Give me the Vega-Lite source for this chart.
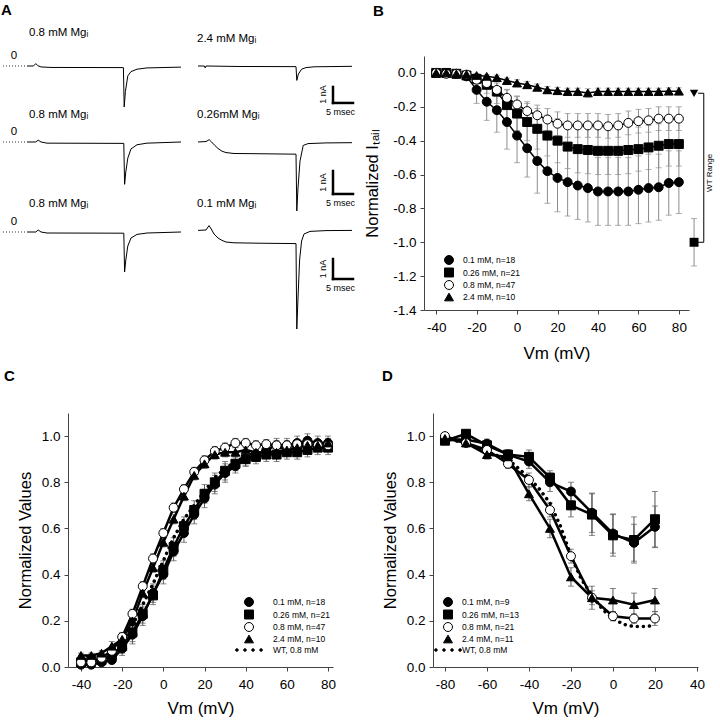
{
"$schema":"https://vega.github.io/schema/vega-lite/v6.json",
"padding":{"left":1,"top":2,"right":0,"bottom":0},
"config":{
 "font":"Liberation Sans",
 "view":{"stroke":null},
 "locale":{"number":{"decimal":".","thousands":",","grouping":[3],"currency":["$",""],"minus":"-"}},
 "axis":{"domainColor":"#444","tickColor":"#444","labelColor":"#000","titleColor":"#000","labelFontSize":13.5,"titleFontSize":16.5,"titleFontWeight":"normal","tickSize":4,"labelFlush":false,"labelOverlap":false,"grid":false},
 "axisX":{"labelPadding":6,"titlePadding":12},
 "axisY":{"labelPadding":4,"titlePadding":8},
 "title":{"fontSize":15,"fontWeight":"bold","anchor":"start","frame":"group","color":"#000"},
 "legend":{"labelFontSize":8.5,"symbolSize":80,"rowPadding":-1.5,"padding":0,"symbolStrokeColor":"#000","symbolStrokeWidth":1,"symbolOpacity":1,"labelColor":"#000"}
},
"datasets":{
 "tr":[
  {"p":"1L","t":0,"i":0},{"p":"1L","t":1.6,"i":0},{"p":"1L","t":2.2,"i":0.15},{"p":"1L","t":2.7,"i":0.02},{"p":"1L","t":3.5,"i":-0.06},{"p":"1L","t":6,"i":-0.09},{"p":"1L","t":24.1,"i":-0.1},{"p":"1L","t":24.3,"i":-2.56},{"p":"1L","t":24.6,"i":-1.6},{"p":"1L","t":25.2,"i":-0.62},{"p":"1L","t":26,"i":-0.35},{"p":"1L","t":27.5,"i":-0.2},{"p":"1L","t":30,"i":-0.12},{"p":"1L","t":38.5,"i":-0.07},
  {"p":"1R","t":0,"i":0},{"p":"1R","t":1.6,"i":0},{"p":"1R","t":1.8,"i":-0.12},{"p":"1R","t":2,"i":0},{"p":"1R","t":10,"i":-0.03},{"p":"1R","t":24.5,"i":-0.04},{"p":"1R","t":24.7,"i":-0.9},{"p":"1R","t":25.1,"i":-0.5},{"p":"1R","t":25.9,"i":-0.2},{"p":"1R","t":27,"i":-0.1},{"p":"1R","t":29,"i":-0.05},{"p":"1R","t":38.5,"i":-0.02},
  {"p":"2L","t":0,"i":0},{"p":"2L","t":2.2,"i":0},{"p":"2L","t":2.8,"i":0.08},{"p":"2L","t":3.5,"i":0},{"p":"2L","t":5,"i":-0.05},{"p":"2L","t":24.2,"i":-0.06},{"p":"2L","t":24.4,"i":-1.84},{"p":"2L","t":24.7,"i":-1.3},{"p":"2L","t":25.2,"i":-0.7},{"p":"2L","t":26,"i":-0.3},{"p":"2L","t":27.5,"i":-0.12},{"p":"2L","t":30,"i":-0.05},{"p":"2L","t":38.5,"i":0},
  {"p":"2R","t":0,"i":0},{"p":"2R","t":2,"i":0.02},{"p":"2R","t":2.8,"i":0.1},{"p":"2R","t":3.4,"i":0},{"p":"2R","t":4.2,"i":-0.15},{"p":"2R","t":5,"i":-0.28},{"p":"2R","t":6,"i":-0.4},{"p":"2R","t":7,"i":-0.46},{"p":"2R","t":9,"i":-0.5},{"p":"2R","t":15,"i":-0.51},{"p":"2R","t":24.5,"i":-0.53},{"p":"2R","t":24.7,"i":-3.0},{"p":"2R","t":25,"i":-2.0},{"p":"2R","t":25.5,"i":-0.83},{"p":"2R","t":26.3,"i":-0.15},{"p":"2R","t":27.5,"i":-0.07},{"p":"2R","t":32,"i":-0.04},{"p":"2R","t":38.5,"i":-0.03},
  {"p":"3L","t":0,"i":0},{"p":"3L","t":2.2,"i":0},{"p":"3L","t":2.8,"i":0.1},{"p":"3L","t":3.5,"i":0},{"p":"3L","t":5,"i":-0.05},{"p":"3L","t":24.2,"i":-0.06},{"p":"3L","t":24.4,"i":-2.0},{"p":"3L","t":24.7,"i":-1.4},{"p":"3L","t":25.2,"i":-0.7},{"p":"3L","t":26,"i":-0.3},{"p":"3L","t":27.5,"i":-0.12},{"p":"3L","t":30,"i":-0.05},{"p":"3L","t":38.5,"i":0},
  {"p":"3R","t":0,"i":0.08},{"p":"3R","t":2,"i":0.1},{"p":"3R","t":2.75,"i":0.32},{"p":"3R","t":3.3,"i":0.15},{"p":"3R","t":4,"i":-0.1},{"p":"3R","t":5,"i":-0.3},{"p":"3R","t":6,"i":-0.42},{"p":"3R","t":7,"i":-0.5},{"p":"3R","t":9,"i":-0.54},{"p":"3R","t":15,"i":-0.56},{"p":"3R","t":24.5,"i":-0.58},{"p":"3R","t":24.7,"i":-4.85},{"p":"3R","t":25,"i":-3.3},{"p":"3R","t":25.4,"i":-1.4},{"p":"3R","t":25.9,"i":-0.45},{"p":"3R","t":26.5,"i":-0.1},{"p":"3R","t":28,"i":0.03},{"p":"3R","t":32,"i":0.07},{"p":"3R","t":38.5,"i":0.08}
 ],
 "an":[
  {"p":"1L","k":"zr","t":-6,"t1":-0.3,"i":0,"i1":0},{"p":"1L","k":"z","t":-3.25,"i":0,"lab":"0"},
  {"p":"2L","k":"zr","t":-6,"t1":-0.3,"i":0,"i1":0},{"p":"2L","k":"z","t":-3.25,"i":0,"lab":"0"},
  {"p":"3L","k":"zr","t":-6,"t1":-0.3,"i":0,"i1":0},{"p":"3L","k":"z","t":-3.25,"i":0,"lab":"0"},
  {"p":"1R","k":"sb","t":33.75,"t1":33.75,"i":-1.31,"i1":-2.31},{"p":"1R","k":"sb","t":33.75,"t1":38.75,"i":-2.31,"i1":-2.31},{"p":"1R","k":"v","t":31.25,"i":-1.78,"lab":"1 nA"},{"p":"1R","k":"h","t":35.6,"i":-2.875,"lab":"5 msec"},
  {"p":"2R","k":"sb","t":33.75,"t1":33.75,"i":-1.26,"i1":-2.26},{"p":"2R","k":"sb","t":33.75,"t1":38.75,"i":-2.26,"i1":-2.26},{"p":"2R","k":"v","t":31.25,"i":-1.76,"lab":"1 nA"},{"p":"2R","k":"h","t":35.6,"i":-2.65,"lab":"5 msec"},
  {"p":"3R","k":"sb","t":33.75,"t1":33.75,"i":-1.35,"i1":-2.35},{"p":"3R","k":"sb","t":33.75,"t1":38.75,"i":-2.35,"i1":-2.35},{"p":"3R","k":"v","t":31.25,"i":-1.85,"lab":"1 nA"},{"p":"3R","k":"h","t":35.6,"i":-2.8,"lab":"5 msec"}
 ],
 "iv":[
  {"V":-40,"s":"0.1 mM, n=18","m":0,"e":0.01},{"V":-35,"s":"0.1 mM, n=18","m":0,"e":0.01},{"V":-30,"s":"0.1 mM, n=18","m":-0.005,"e":0.01},{"V":-25,"s":"0.1 mM, n=18","m":-0.02,"e":0.02},{"V":-20,"s":"0.1 mM, n=18","m":-0.1,"e":0.08},{"V":-15,"s":"0.1 mM, n=18","m":-0.17,"e":0.11},{"V":-10,"s":"0.1 mM, n=18","m":-0.22,"e":0.13},{"V":-5,"s":"0.1 mM, n=18","m":-0.29,"e":0.16},{"V":0,"s":"0.1 mM, n=18","m":-0.37,"e":0.16},{"V":5,"s":"0.1 mM, n=18","m":-0.445,"e":0.17},{"V":10,"s":"0.1 mM, n=18","m":-0.52,"e":0.19},{"V":15,"s":"0.1 mM, n=18","m":-0.58,"e":0.19},{"V":20,"s":"0.1 mM, n=18","m":-0.62,"e":0.2},{"V":25,"s":"0.1 mM, n=18","m":-0.645,"e":0.2},{"V":30,"s":"0.1 mM, n=18","m":-0.665,"e":0.2},{"V":35,"s":"0.1 mM, n=18","m":-0.68,"e":0.2},{"V":40,"s":"0.1 mM, n=18","m":-0.7,"e":0.2},{"V":45,"s":"0.1 mM, n=18","m":-0.7,"e":0.2},{"V":50,"s":"0.1 mM, n=18","m":-0.7,"e":0.2},{"V":55,"s":"0.1 mM, n=18","m":-0.7,"e":0.2},{"V":60,"s":"0.1 mM, n=18","m":-0.69,"e":0.2},{"V":65,"s":"0.1 mM, n=18","m":-0.68,"e":0.2},{"V":70,"s":"0.1 mM, n=18","m":-0.675,"e":0.195},{"V":75,"s":"0.1 mM, n=18","m":-0.65,"e":0.19},{"V":80,"s":"0.1 mM, n=18","m":-0.645,"e":0.185},
  {"V":-40,"s":"0.26 mM, n=21","m":0,"e":0.01},{"V":-35,"s":"0.26 mM, n=21","m":0,"e":0.01},{"V":-30,"s":"0.26 mM, n=21","m":-0.005,"e":0.01},{"V":-25,"s":"0.26 mM, n=21","m":-0.015,"e":0.02},{"V":-20,"s":"0.26 mM, n=21","m":-0.035,"e":0.03},{"V":-15,"s":"0.26 mM, n=21","m":-0.07,"e":0.05},{"V":-10,"s":"0.26 mM, n=21","m":-0.11,"e":0.07},{"V":-5,"s":"0.26 mM, n=21","m":-0.19,"e":0.09},{"V":0,"s":"0.26 mM, n=21","m":-0.24,"e":0.1},{"V":5,"s":"0.26 mM, n=21","m":-0.29,"e":0.11},{"V":10,"s":"0.26 mM, n=21","m":-0.33,"e":0.12},{"V":15,"s":"0.26 mM, n=21","m":-0.37,"e":0.12},{"V":20,"s":"0.26 mM, n=21","m":-0.4,"e":0.13},{"V":25,"s":"0.26 mM, n=21","m":-0.435,"e":0.13},{"V":30,"s":"0.26 mM, n=21","m":-0.45,"e":0.14},{"V":35,"s":"0.26 mM, n=21","m":-0.455,"e":0.14},{"V":40,"s":"0.26 mM, n=21","m":-0.46,"e":0.14},{"V":45,"s":"0.26 mM, n=21","m":-0.46,"e":0.14},{"V":50,"s":"0.26 mM, n=21","m":-0.46,"e":0.14},{"V":55,"s":"0.26 mM, n=21","m":-0.455,"e":0.14},{"V":60,"s":"0.26 mM, n=21","m":-0.45,"e":0.13},{"V":65,"s":"0.26 mM, n=21","m":-0.44,"e":0.13},{"V":70,"s":"0.26 mM, n=21","m":-0.43,"e":0.13},{"V":75,"s":"0.26 mM, n=21","m":-0.42,"e":0.13},{"V":80,"s":"0.26 mM, n=21","m":-0.42,"e":0.13},
  {"V":-40,"s":"0.8 mM, n=47","m":0,"e":0.005},{"V":-35,"s":"0.8 mM, n=47","m":-0.005,"e":0.01},{"V":-30,"s":"0.8 mM, n=47","m":-0.005,"e":0.01},{"V":-25,"s":"0.8 mM, n=47","m":-0.01,"e":0.015},{"V":-20,"s":"0.8 mM, n=47","m":-0.04,"e":0.02},{"V":-15,"s":"0.8 mM, n=47","m":-0.06,"e":0.03},{"V":-10,"s":"0.8 mM, n=47","m":-0.1,"e":0.04},{"V":-5,"s":"0.8 mM, n=47","m":-0.147,"e":0.05},{"V":0,"s":"0.8 mM, n=47","m":-0.186,"e":0.05},{"V":5,"s":"0.8 mM, n=47","m":-0.225,"e":0.055},{"V":10,"s":"0.8 mM, n=47","m":-0.25,"e":0.06},{"V":15,"s":"0.8 mM, n=47","m":-0.275,"e":0.065},{"V":20,"s":"0.8 mM, n=47","m":-0.3,"e":0.07},{"V":25,"s":"0.8 mM, n=47","m":-0.31,"e":0.07},{"V":30,"s":"0.8 mM, n=47","m":-0.31,"e":0.07},{"V":35,"s":"0.8 mM, n=47","m":-0.31,"e":0.07},{"V":40,"s":"0.8 mM, n=47","m":-0.31,"e":0.07},{"V":45,"s":"0.8 mM, n=47","m":-0.315,"e":0.07},{"V":50,"s":"0.8 mM, n=47","m":-0.31,"e":0.07},{"V":55,"s":"0.8 mM, n=47","m":-0.295,"e":0.07},{"V":60,"s":"0.8 mM, n=47","m":-0.285,"e":0.07},{"V":65,"s":"0.8 mM, n=47","m":-0.28,"e":0.07},{"V":70,"s":"0.8 mM, n=47","m":-0.27,"e":0.07},{"V":75,"s":"0.8 mM, n=47","m":-0.27,"e":0.07},{"V":80,"s":"0.8 mM, n=47","m":-0.27,"e":0.07},
  {"V":-40,"s":"2.4 mM, n=10","m":0,"e":0.005},{"V":-35,"s":"2.4 mM, n=10","m":0,"e":0.005},{"V":-30,"s":"2.4 mM, n=10","m":-0.005,"e":0.005},{"V":-25,"s":"2.4 mM, n=10","m":-0.008,"e":0.008},{"V":-20,"s":"2.4 mM, n=10","m":-0.015,"e":0.01},{"V":-15,"s":"2.4 mM, n=10","m":-0.02,"e":0.01},{"V":-10,"s":"2.4 mM, n=10","m":-0.028,"e":0.015},{"V":-5,"s":"2.4 mM, n=10","m":-0.045,"e":0.015},{"V":0,"s":"2.4 mM, n=10","m":-0.06,"e":0.02},{"V":5,"s":"2.4 mM, n=10","m":-0.07,"e":0.02},{"V":10,"s":"2.4 mM, n=10","m":-0.085,"e":0.02},{"V":15,"s":"2.4 mM, n=10","m":-0.1,"e":0.02},{"V":20,"s":"2.4 mM, n=10","m":-0.105,"e":0.02},{"V":25,"s":"2.4 mM, n=10","m":-0.11,"e":0.02},{"V":30,"s":"2.4 mM, n=10","m":-0.11,"e":0.02},{"V":35,"s":"2.4 mM, n=10","m":-0.118,"e":0.025},{"V":40,"s":"2.4 mM, n=10","m":-0.11,"e":0.02},{"V":45,"s":"2.4 mM, n=10","m":-0.11,"e":0.02},{"V":50,"s":"2.4 mM, n=10","m":-0.11,"e":0.02},{"V":55,"s":"2.4 mM, n=10","m":-0.11,"e":0.02},{"V":60,"s":"2.4 mM, n=10","m":-0.11,"e":0.02},{"V":65,"s":"2.4 mM, n=10","m":-0.11,"e":0.02},{"V":70,"s":"2.4 mM, n=10","m":-0.11,"e":0.02},{"V":75,"s":"2.4 mM, n=10","m":-0.108,"e":0.02},{"V":80,"s":"2.4 mM, n=10","m":-0.108,"e":0.02}
 ],
 "wt":[{"V":87.5,"m":-0.12,"e":0,"k":"tri"},{"V":87.5,"m":-1.0,"e":0.14,"k":"sq"}],
 "wtb":[{"V":92.3,"V2":92.3,"m":-0.12,"m2":-1.0},{"V":89.5,"V2":92.3,"m":-0.12,"m2":-0.12},{"V":89.5,"V2":92.3,"m":-1.0,"m2":-1.0}],
 "wtt":[{"V":95.5,"m":-0.59,"lab":"WT Range"}],
 "act":[
  {"V":-40,"s":"0.1 mM, n=18","m":0.01,"e":0.01},{"V":-35,"s":"0.1 mM, n=18","m":0.01,"e":0.01},{"V":-30,"s":"0.1 mM, n=18","m":0.02,"e":0.01},{"V":-25,"s":"0.1 mM, n=18","m":0.03,"e":0.01},{"V":-20,"s":"0.1 mM, n=18","m":0.08,"e":0.03},{"V":-15,"s":"0.1 mM, n=18","m":0.14,"e":0.04},{"V":-10,"s":"0.1 mM, n=18","m":0.22,"e":0.04},{"V":-5,"s":"0.1 mM, n=18","m":0.32,"e":0.04},{"V":0,"s":"0.1 mM, n=18","m":0.4,"e":0.04},{"V":5,"s":"0.1 mM, n=18","m":0.5,"e":0.04},{"V":10,"s":"0.1 mM, n=18","m":0.58,"e":0.04},{"V":15,"s":"0.1 mM, n=18","m":0.66,"e":0.04},{"V":20,"s":"0.1 mM, n=18","m":0.73,"e":0.04},{"V":25,"s":"0.1 mM, n=18","m":0.79,"e":0.04},{"V":30,"s":"0.1 mM, n=18","m":0.84,"e":0.04},{"V":35,"s":"0.1 mM, n=18","m":0.87,"e":0.03},{"V":40,"s":"0.1 mM, n=18","m":0.9,"e":0.03},{"V":45,"s":"0.1 mM, n=18","m":0.92,"e":0.03},{"V":50,"s":"0.1 mM, n=18","m":0.94,"e":0.03},{"V":55,"s":"0.1 mM, n=18","m":0.96,"e":0.03},{"V":60,"s":"0.1 mM, n=18","m":0.96,"e":0.03},{"V":65,"s":"0.1 mM, n=18","m":0.97,"e":0.03},{"V":70,"s":"0.1 mM, n=18","m":0.98,"e":0.03},{"V":75,"s":"0.1 mM, n=18","m":0.97,"e":0.03},{"V":80,"s":"0.1 mM, n=18","m":0.97,"e":0.03},
  {"V":-40,"s":"0.26 mM, n=21","m":0.02,"e":0.01},{"V":-35,"s":"0.26 mM, n=21","m":0.03,"e":0.01},{"V":-30,"s":"0.26 mM, n=21","m":0.03,"e":0.01},{"V":-25,"s":"0.26 mM, n=21","m":0.05,"e":0.01},{"V":-20,"s":"0.26 mM, n=21","m":0.09,"e":0.03},{"V":-15,"s":"0.26 mM, n=21","m":0.15,"e":0.04},{"V":-10,"s":"0.26 mM, n=21","m":0.23,"e":0.04},{"V":-5,"s":"0.26 mM, n=21","m":0.31,"e":0.04},{"V":0,"s":"0.26 mM, n=21","m":0.42,"e":0.04},{"V":5,"s":"0.26 mM, n=21","m":0.52,"e":0.04},{"V":10,"s":"0.26 mM, n=21","m":0.61,"e":0.04},{"V":15,"s":"0.26 mM, n=21","m":0.68,"e":0.04},{"V":20,"s":"0.26 mM, n=21","m":0.75,"e":0.04},{"V":25,"s":"0.26 mM, n=21","m":0.8,"e":0.04},{"V":30,"s":"0.26 mM, n=21","m":0.85,"e":0.04},{"V":35,"s":"0.26 mM, n=21","m":0.88,"e":0.03},{"V":40,"s":"0.26 mM, n=21","m":0.9,"e":0.03},{"V":45,"s":"0.26 mM, n=21","m":0.91,"e":0.03},{"V":50,"s":"0.26 mM, n=21","m":0.92,"e":0.03},{"V":55,"s":"0.26 mM, n=21","m":0.92,"e":0.03},{"V":60,"s":"0.26 mM, n=21","m":0.93,"e":0.03},{"V":65,"s":"0.26 mM, n=21","m":0.93,"e":0.03},{"V":70,"s":"0.26 mM, n=21","m":0.94,"e":0.03},{"V":75,"s":"0.26 mM, n=21","m":0.95,"e":0.03},{"V":80,"s":"0.26 mM, n=21","m":0.95,"e":0.03},
  {"V":-40,"s":"0.8 mM, n=47","m":0.02,"e":0.01},{"V":-35,"s":"0.8 mM, n=47","m":0.02,"e":0.01},{"V":-30,"s":"0.8 mM, n=47","m":0.04,"e":0.01},{"V":-25,"s":"0.8 mM, n=47","m":0.07,"e":0.02},{"V":-20,"s":"0.8 mM, n=47","m":0.13,"e":0.02},{"V":-15,"s":"0.8 mM, n=47","m":0.23,"e":0.02},{"V":-10,"s":"0.8 mM, n=47","m":0.35,"e":0.02},{"V":-5,"s":"0.8 mM, n=47","m":0.47,"e":0.02},{"V":0,"s":"0.8 mM, n=47","m":0.58,"e":0.02},{"V":5,"s":"0.8 mM, n=47","m":0.69,"e":0.02},{"V":10,"s":"0.8 mM, n=47","m":0.77,"e":0.02},{"V":15,"s":"0.8 mM, n=47","m":0.845,"e":0.02},{"V":20,"s":"0.8 mM, n=47","m":0.895,"e":0.02},{"V":25,"s":"0.8 mM, n=47","m":0.935,"e":0.02},{"V":30,"s":"0.8 mM, n=47","m":0.95,"e":0.02},{"V":35,"s":"0.8 mM, n=47","m":0.97,"e":0.02},{"V":40,"s":"0.8 mM, n=47","m":0.97,"e":0.02},{"V":45,"s":"0.8 mM, n=47","m":0.96,"e":0.02},{"V":50,"s":"0.8 mM, n=47","m":0.965,"e":0.02},{"V":55,"s":"0.8 mM, n=47","m":0.96,"e":0.02},{"V":60,"s":"0.8 mM, n=47","m":0.96,"e":0.02},{"V":65,"s":"0.8 mM, n=47","m":0.965,"e":0.02},{"V":70,"s":"0.8 mM, n=47","m":0.965,"e":0.02},{"V":75,"s":"0.8 mM, n=47","m":0.96,"e":0.02},{"V":80,"s":"0.8 mM, n=47","m":0.96,"e":0.02},
  {"V":-40,"s":"2.4 mM, n=10","m":0.05,"e":0.01},{"V":-35,"s":"2.4 mM, n=10","m":0.05,"e":0.01},{"V":-30,"s":"2.4 mM, n=10","m":0.06,"e":0.01},{"V":-25,"s":"2.4 mM, n=10","m":0.09,"e":0.02},{"V":-20,"s":"2.4 mM, n=10","m":0.12,"e":0.02},{"V":-15,"s":"2.4 mM, n=10","m":0.2,"e":0.02},{"V":-10,"s":"2.4 mM, n=10","m":0.32,"e":0.02},{"V":-5,"s":"2.4 mM, n=10","m":0.43,"e":0.02},{"V":0,"s":"2.4 mM, n=10","m":0.54,"e":0.02},{"V":5,"s":"2.4 mM, n=10","m":0.64,"e":0.02},{"V":10,"s":"2.4 mM, n=10","m":0.74,"e":0.02},{"V":15,"s":"2.4 mM, n=10","m":0.83,"e":0.02},{"V":20,"s":"2.4 mM, n=10","m":0.88,"e":0.02},{"V":25,"s":"2.4 mM, n=10","m":0.92,"e":0.02},{"V":30,"s":"2.4 mM, n=10","m":0.93,"e":0.02},{"V":35,"s":"2.4 mM, n=10","m":0.93,"e":0.02},{"V":40,"s":"2.4 mM, n=10","m":0.94,"e":0.02},{"V":45,"s":"2.4 mM, n=10","m":0.93,"e":0.02},{"V":50,"s":"2.4 mM, n=10","m":0.93,"e":0.02},{"V":55,"s":"2.4 mM, n=10","m":0.93,"e":0.02},{"V":60,"s":"2.4 mM, n=10","m":0.94,"e":0.02},{"V":65,"s":"2.4 mM, n=10","m":0.95,"e":0.02},{"V":70,"s":"2.4 mM, n=10","m":0.96,"e":0.02},{"V":75,"s":"2.4 mM, n=10","m":0.96,"e":0.02},{"V":80,"s":"2.4 mM, n=10","m":0.97,"e":0.02}
 ],
 "actwt":[
  {"V":-40,"m":0.02},{"V":-35,"m":0.025},{"V":-30,"m":0.04},{"V":-25,"m":0.07},{"V":-20,"m":0.11},{"V":-15,"m":0.18},{"V":-10,"m":0.27},{"V":-5,"m":0.36},{"V":0,"m":0.46},{"V":5,"m":0.56},{"V":10,"m":0.64},{"V":15,"m":0.7},{"V":20,"m":0.76},{"V":25,"m":0.82},{"V":30,"m":0.86},{"V":35,"m":0.89},{"V":40,"m":0.91},{"V":45,"m":0.93},{"V":50,"m":0.94},{"V":55,"m":0.95},{"V":60,"m":0.95},{"V":65,"m":0.96},{"V":70,"m":0.96},{"V":75,"m":0.96},{"V":80,"m":0.96}
 ],
 "inact":[
  {"V":-80,"s":"0.1 mM, n=9","m":0.985,"e":0.01},{"V":-70,"s":"0.1 mM, n=9","m":0.985,"e":0.015},{"V":-60,"s":"0.1 mM, n=9","m":0.967,"e":0.02},{"V":-50,"s":"0.1 mM, n=9","m":0.92,"e":0.02},{"V":-40,"s":"0.1 mM, n=9","m":0.89,"e":0.03},{"V":-30,"s":"0.1 mM, n=9","m":0.8,"e":0.04},{"V":-20,"s":"0.1 mM, n=9","m":0.76,"e":0.04},{"V":-10,"s":"0.1 mM, n=9","m":0.668,"e":0.085},{"V":0,"s":"0.1 mM, n=9","m":0.578,"e":0.085},{"V":10,"s":"0.1 mM, n=9","m":0.538,"e":0.08},{"V":20,"s":"0.1 mM, n=9","m":0.607,"e":0.09},
  {"V":-80,"s":"0.26 mM, n=13","m":0.98,"e":0.01},{"V":-70,"s":"0.26 mM, n=13","m":1.01,"e":0.015},{"V":-60,"s":"0.26 mM, n=13","m":0.96,"e":0.02},{"V":-50,"s":"0.26 mM, n=13","m":0.92,"e":0.02},{"V":-40,"s":"0.26 mM, n=13","m":0.91,"e":0.03},{"V":-30,"s":"0.26 mM, n=13","m":0.82,"e":0.03},{"V":-20,"s":"0.26 mM, n=13","m":0.7,"e":0.05},{"V":-10,"s":"0.26 mM, n=13","m":0.66,"e":0.09},{"V":0,"s":"0.26 mM, n=13","m":0.57,"e":0.09},{"V":10,"s":"0.26 mM, n=13","m":0.55,"e":0.1},{"V":20,"s":"0.26 mM, n=13","m":0.64,"e":0.12},
  {"V":-80,"s":"0.8 mM, n=21","m":1.0,"e":0.01},{"V":-70,"s":"0.8 mM, n=21","m":0.97,"e":0.01},{"V":-60,"s":"0.8 mM, n=21","m":0.94,"e":0.02},{"V":-50,"s":"0.8 mM, n=21","m":0.88,"e":0.02},{"V":-40,"s":"0.8 mM, n=21","m":0.81,"e":0.03},{"V":-30,"s":"0.8 mM, n=21","m":0.68,"e":0.03},{"V":-20,"s":"0.8 mM, n=21","m":0.48,"e":0.03},{"V":-10,"s":"0.8 mM, n=21","m":0.3,"e":0.03},{"V":0,"s":"0.8 mM, n=21","m":0.22,"e":0.02},{"V":10,"s":"0.8 mM, n=21","m":0.21,"e":0.02},{"V":20,"s":"0.8 mM, n=21","m":0.21,"e":0.03},
  {"V":-80,"s":"2.4 mM, n=11","m":0.99,"e":0.01},{"V":-70,"s":"2.4 mM, n=11","m":0.97,"e":0.01},{"V":-60,"s":"2.4 mM, n=11","m":0.92,"e":0.02},{"V":-50,"s":"2.4 mM, n=11","m":0.91,"e":0.02},{"V":-40,"s":"2.4 mM, n=11","m":0.75,"e":0.03},{"V":-30,"s":"2.4 mM, n=11","m":0.6,"e":0.04},{"V":-20,"s":"2.4 mM, n=11","m":0.39,"e":0.04},{"V":-10,"s":"2.4 mM, n=11","m":0.3,"e":0.05},{"V":0,"s":"2.4 mM, n=11","m":0.29,"e":0.05},{"V":10,"s":"2.4 mM, n=11","m":0.27,"e":0.05},{"V":20,"s":"2.4 mM, n=11","m":0.29,"e":0.05}
 ],
 "inactwt":[
  {"V":-80,"m":0.99},{"V":-70,"m":0.97},{"V":-60,"m":0.93},{"V":-50,"m":0.9},{"V":-45,"m":0.86},{"V":-40,"m":0.82},{"V":-35,"m":0.77},{"V":-30,"m":0.71},{"V":-25,"m":0.61},{"V":-20,"m":0.48},{"V":-15,"m":0.38},{"V":-10,"m":0.31},{"V":-5,"m":0.25},{"V":0,"m":0.21},{"V":5,"m":0.185},{"V":10,"m":0.175},{"V":15,"m":0.175},{"V":20,"m":0.18}
 ]
},
"spacing":7,
"resolve":{"scale":{"shape":"independent","fill":"independent"},"legend":{"shape":"independent","fill":"independent"}},
"vconcat":[
 {"hconcat":[
  {"title":{"text":"A","offset":9,"dx":-2},
   "concat":[
    {"width":178,"height":69,
     "title":{"text":"0.8 mM Mgᵢ","dx":26,"offset":12,"fontSize":11.5,"fontWeight":"normal"},
     "encoding":{"x":{"field":"t","type":"quantitative","scale":{"domain":[-6,38.5],"nice":false,"zero":false},"axis":null},
                 "y":{"field":"i","type":"quantitative","scale":{"domain":[-3.6875,0.625],"nice":false,"zero":false},"axis":null}},
     "layer":[
      {"data":{"name":"tr"},"transform":[{"filter":"datum.p==='1L'"}],"mark":{"type":"line","color":"#000","strokeWidth":1}},
      {"data":{"name":"an"},"transform":[{"filter":"datum.p==='1L' && datum.k==='zr'"}],"mark":{"type":"rule","color":"#333","strokeWidth":1,"strokeDash":[1,2]},"encoding":{"x2":{"field":"t1"},"y2":{"field":"i1"}}},
      {"data":{"name":"an"},"transform":[{"filter":"datum.p==='1L' && datum.k==='z'"}],"mark":{"type":"text","dy":-10,"fontSize":11.5,"color":"#000"},"encoding":{"text":{"field":"lab"}}}
     ]},
    {"width":158,"height":69,
     "title":{"text":"2.4 mM Mgᵢ","dx":-1,"offset":12,"fontSize":11.5,"fontWeight":"normal"},
     "encoding":{"x":{"field":"t","type":"quantitative","scale":{"domain":[0,39.5],"nice":false,"zero":false},"axis":null},
                 "y":{"field":"i","type":"quantitative","scale":{"domain":[-3.6875,0.625],"nice":false,"zero":false},"axis":null}},
     "layer":[
      {"data":{"name":"tr"},"transform":[{"filter":"datum.p==='1R'"}],"mark":{"type":"line","color":"#000","strokeWidth":1}},
      {"data":{"name":"an"},"transform":[{"filter":"datum.p==='1R' && datum.k==='sb'"}],"mark":{"type":"rule","color":"#000","strokeWidth":2.5,"strokeCap":"square"},"encoding":{"x2":{"field":"t1"},"y2":{"field":"i1"}}},
      {"data":{"name":"an"},"transform":[{"filter":"datum.p==='1R' && datum.k==='v'"}],"mark":{"type":"text","angle":270,"fontSize":9,"color":"#000"},"encoding":{"text":{"field":"lab"}}},
      {"data":{"name":"an"},"transform":[{"filter":"datum.p==='1R' && datum.k==='h'"}],"mark":{"type":"text","fontSize":9,"color":"#000"},"encoding":{"text":{"field":"lab"}}}
     ]},
    {"width":178,"height":90,
     "title":{"text":"0.8 mM Mgᵢ","dx":26,"offset":5,"fontSize":11.5,"fontWeight":"normal"},
     "encoding":{"x":{"field":"t","type":"quantitative","scale":{"domain":[-6,38.5],"nice":false,"zero":false},"axis":null},
                 "y":{"field":"i","type":"quantitative","scale":{"domain":[-3.174,0.739],"nice":false,"zero":false},"axis":null}},
     "layer":[
      {"data":{"name":"tr"},"transform":[{"filter":"datum.p==='2L'"}],"mark":{"type":"line","color":"#000","strokeWidth":1}},
      {"data":{"name":"an"},"transform":[{"filter":"datum.p==='2L' && datum.k==='zr'"}],"mark":{"type":"rule","color":"#333","strokeWidth":1,"strokeDash":[1,2]},"encoding":{"x2":{"field":"t1"},"y2":{"field":"i1"}}},
      {"data":{"name":"an"},"transform":[{"filter":"datum.p==='2L' && datum.k==='z'"}],"mark":{"type":"text","dy":-10,"fontSize":11.5,"color":"#000"},"encoding":{"text":{"field":"lab"}}}
     ]},
    {"width":158,"height":90,
     "title":{"text":"0.26mM Mgᵢ","dx":-1,"offset":5,"fontSize":11.5,"fontWeight":"normal"},
     "encoding":{"x":{"field":"t","type":"quantitative","scale":{"domain":[0,39.5],"nice":false,"zero":false},"axis":null},
                 "y":{"field":"i","type":"quantitative","scale":{"domain":[-3.174,0.739],"nice":false,"zero":false},"axis":null}},
     "layer":[
      {"data":{"name":"tr"},"transform":[{"filter":"datum.p==='2R'"}],"mark":{"type":"line","color":"#000","strokeWidth":1}},
      {"data":{"name":"an"},"transform":[{"filter":"datum.p==='2R' && datum.k==='sb'"}],"mark":{"type":"rule","color":"#000","strokeWidth":2.5,"strokeCap":"square"},"encoding":{"x2":{"field":"t1"},"y2":{"field":"i1"}}},
      {"data":{"name":"an"},"transform":[{"filter":"datum.p==='2R' && datum.k==='v'"}],"mark":{"type":"text","angle":270,"fontSize":9,"color":"#000"},"encoding":{"text":{"field":"lab"}}},
      {"data":{"name":"an"},"transform":[{"filter":"datum.p==='2R' && datum.k==='h'"}],"mark":{"type":"text","fontSize":9,"color":"#000"},"encoding":{"text":{"field":"lab"}}}
     ]},
    {"width":178,"height":117,
     "title":{"text":"0.8 mM Mgᵢ","dx":26,"offset":6,"fontSize":11.5,"fontWeight":"normal"},
     "encoding":{"x":{"field":"t","type":"quantitative","scale":{"domain":[-6,38.5],"nice":false,"zero":false},"axis":null},
                 "y":{"field":"i","type":"quantitative","scale":{"domain":[-5.0,0.85],"nice":false,"zero":false},"axis":null}},
     "layer":[
      {"data":{"name":"tr"},"transform":[{"filter":"datum.p==='3L'"}],"mark":{"type":"line","color":"#000","strokeWidth":1}},
      {"data":{"name":"an"},"transform":[{"filter":"datum.p==='3L' && datum.k==='zr'"}],"mark":{"type":"rule","color":"#333","strokeWidth":1,"strokeDash":[1,2]},"encoding":{"x2":{"field":"t1"},"y2":{"field":"i1"}}},
      {"data":{"name":"an"},"transform":[{"filter":"datum.p==='3L' && datum.k==='z'"}],"mark":{"type":"text","dy":-10,"fontSize":11.5,"color":"#000"},"encoding":{"text":{"field":"lab"}}}
     ]},
    {"width":158,"height":117,
     "title":{"text":"0.1 mM Mgᵢ","dx":-1,"offset":6,"fontSize":11.5,"fontWeight":"normal"},
     "encoding":{"x":{"field":"t","type":"quantitative","scale":{"domain":[0,39.5],"nice":false,"zero":false},"axis":null},
                 "y":{"field":"i","type":"quantitative","scale":{"domain":[-5.0,0.85],"nice":false,"zero":false},"axis":null}},
     "layer":[
      {"data":{"name":"tr"},"transform":[{"filter":"datum.p==='3R'"}],"mark":{"type":"line","color":"#000","strokeWidth":1}},
      {"data":{"name":"an"},"transform":[{"filter":"datum.p==='3R' && datum.k==='sb'"}],"mark":{"type":"rule","color":"#000","strokeWidth":2.5,"strokeCap":"square"},"encoding":{"x2":{"field":"t1"},"y2":{"field":"i1"}}},
      {"data":{"name":"an"},"transform":[{"filter":"datum.p==='3R' && datum.k==='v'"}],"mark":{"type":"text","angle":270,"fontSize":9,"color":"#000"},"encoding":{"text":{"field":"lab"}}},
      {"data":{"name":"an"},"transform":[{"filter":"datum.p==='3R' && datum.k==='h'"}],"mark":{"type":"text","fontSize":9,"color":"#000"},"encoding":{"text":{"field":"lab"}}}
     ]}
   ],
   "columns":2,"spacing":{"row":0,"column":17},"bounds":"flush","align":"each"},
  {"width":265,"height":254,
   "title":{"text":"B","dx":-51,"offset":37},
   "encoding":{
    "x":{"field":"V","type":"quantitative","scale":{"domain":[-46,85],"nice":false,"zero":false},"axis":{"values":[-40,-20,0,20,40,60,80],"format":"d","title":"Vm (mV)","titleFontSize":17}},
    "y":{"field":"m","type":"quantitative","scale":{"domain":[-1.4,0.1],"nice":false,"zero":false},"axis":{"values":[-1.4,-1.2,-1,-0.8,-0.6,-0.4,-0.2,0],"format":".1f","title":"Normalized Iₜₐᵢₗ","titleFontSize":16.5,"titlePadding":12}}
   },
   "layer":[
    {"data":{"name":"iv"},"mark":{"type":"errorbar","ticks":true,"size":6,"thickness":1,"color":"#8c8c8c"},"encoding":{"yError":{"field":"e"},"detail":{"field":"s"}}},
    {"data":{"name":"iv"},"mark":{"type":"line","color":"#000","strokeWidth":1.5},"encoding":{"detail":{"field":"s"}}},
    {"data":{"name":"iv"},"mark":{"type":"point","filled":true,"size":80,"stroke":"#000","strokeWidth":1,"opacity":1},
     "encoding":{
      "shape":{"field":"s","type":"nominal","scale":{"domain":["0.1 mM, n=18","0.26 mM, n=21","0.8 mM, n=47","2.4 mM, n=10"],"range":["circle","square","circle","triangle-up"]},"legend":{"title":null,"orient":"none","legendX":20,"legendY":199,"labelOffset":9,"encode":{"symbols":{"update":{"stroke":{"value":"#000"},"strokeWidth":{"value":1}}}}}},
      "fill":{"field":"s","type":"nominal","scale":{"domain":["0.1 mM, n=18","0.26 mM, n=21","0.8 mM, n=47","2.4 mM, n=10"],"range":["#000","#000","#fff","#000"]},"legend":{"title":null,"orient":"none","legendX":20,"legendY":199,"labelOffset":9,"encode":{"symbols":{"update":{"stroke":{"value":"#000"},"strokeWidth":{"value":1}}}}}}
     }},
    {"data":{"name":"wt"},"transform":[{"filter":"datum.k==='sq'"}],"mark":{"type":"errorbar","ticks":true,"size":6,"thickness":1,"color":"#8c8c8c"},"encoding":{"yError":{"field":"e"}}},
    {"data":{"name":"wt"},"transform":[{"filter":"datum.k==='sq'"}],"mark":{"type":"point","shape":"square","filled":true,"color":"#000","size":80,"opacity":1}},
    {"data":{"name":"wt"},"transform":[{"filter":"datum.k==='tri'"}],"mark":{"type":"point","shape":"triangle-down","filled":true,"color":"#000","size":70,"opacity":1}},
    {"data":{"name":"wtb"},"mark":{"type":"rule","color":"#000","strokeWidth":1},"encoding":{"x2":{"field":"V2"},"y2":{"field":"m2"}}},
    {"data":{"name":"wtt"},"mark":{"type":"text","angle":270,"fontSize":8,"color":"#000"},"encoding":{"text":{"field":"lab"}}}
   ]}
 ],"spacing":8,
 "resolve":{"scale":{"shape":"independent","fill":"independent"},"legend":{"shape":"independent","fill":"independent"}}},
 {"hconcat":[
  {"hconcat":[
   {"width":1,"height":1,"data":{"values":[]},"mark":{"type":"point"}},
   {"width":265,"height":254,
    "title":{"text":"C","dx":-64,"offset":29},
    "encoding":{
     "x":{"field":"V","type":"quantitative","scale":{"domain":[-46.3,82.4],"nice":false,"zero":false},"axis":{"values":[-40,-20,0,20,40,60,80],"format":"d","title":"Vm (mV)","titleFontSize":17,"titlePadding":10}},
     "y":{"field":"m","type":"quantitative","scale":{"domain":[0,1.1],"nice":false,"zero":false},"axis":{"values":[0,0.2,0.4,0.6,0.8,1],"format":".1f","title":"Normalized Values","titleFontSize":16.5}}
    },
    "layer":[
     {"data":{"name":"act"},"mark":{"type":"errorbar","ticks":true,"size":6,"thickness":1,"color":"#555"},"encoding":{"yError":{"field":"e"},"detail":{"field":"s"}}},
     {"data":{"name":"actwt"},"mark":{"type":"line","color":"#000","strokeWidth":3.5,"strokeDash":[0.1,6],"strokeCap":"round"}},
     {"data":{"name":"act"},"mark":{"type":"line","color":"#000","strokeWidth":2.5},"encoding":{"detail":{"field":"s"}}},
     {"data":{"name":"act"},"mark":{"type":"point","filled":true,"size":80,"stroke":"#000","strokeWidth":1,"opacity":1},
      "encoding":{
       "shape":{"field":"s","type":"nominal","scale":{"domain":["0.1 mM, n=18","0.26 mM, n=21","0.8 mM, n=47","2.4 mM, n=10","WT, 0.8 mM"],"range":["circle","square","circle","triangle-up","M-3,0A0.3,0.3 0 1,0 -2.4,0A0.3,0.3 0 1,0 -3,0Z M-1.2,0A0.3,0.3 0 1,0 -0.6,0A0.3,0.3 0 1,0 -1.2,0Z M0.6,0A0.3,0.3 0 1,0 1.2,0A0.3,0.3 0 1,0 0.6,0Z M2.4,0A0.3,0.3 0 1,0 3,0A0.3,0.3 0 1,0 2.4,0Z"]},"legend":{"title":null,"orient":"none","legendX":176,"legendY":184,"labelOffset":19,"encode":{"symbols":{"update":{"stroke":{"value":"#000"},"strokeWidth":{"value":1}}}}}},
       "fill":{"field":"s","type":"nominal","scale":{"domain":["0.1 mM, n=18","0.26 mM, n=21","0.8 mM, n=47","2.4 mM, n=10","WT, 0.8 mM"],"range":["#000","#000","#fff","#000","#000"]},"legend":{"title":null,"orient":"none","legendX":176,"legendY":184,"labelOffset":19,"encode":{"symbols":{"update":{"stroke":{"value":"#000"},"strokeWidth":{"value":1}}}}}}
      }}
    ]}
  ],"spacing":0,
  "resolve":{"scale":{"shape":"independent","fill":"independent"},"legend":{"shape":"independent","fill":"independent"}}},
  {"width":265,"height":254,
   "title":{"text":"D","dx":-51,"offset":29},
   "encoding":{
    "x":{"field":"V","type":"quantitative","scale":{"domain":[-85.7,40.5],"nice":false,"zero":false},"axis":{"values":[-80,-60,-40,-20,0,20,40],"format":"d","title":"Vm (mV)","titleFontSize":17,"titlePadding":10}},
    "y":{"field":"m","type":"quantitative","scale":{"domain":[0,1.1],"nice":false,"zero":false},"axis":{"values":[0,0.2,0.4,0.6,0.8,1],"format":".1f","title":"Normalized Values","titleFontSize":16.5}}
   },
   "layer":[
    {"data":{"name":"inact"},"mark":{"type":"errorbar","ticks":true,"size":6,"thickness":1,"color":"#555"},"encoding":{"yError":{"field":"e"},"detail":{"field":"s"}}},
    {"data":{"name":"inactwt"},"mark":{"type":"line","color":"#000","strokeWidth":3.5,"strokeDash":[0.1,6],"strokeCap":"round"}},
    {"data":{"name":"inact"},"mark":{"type":"line","color":"#000","strokeWidth":2.5},"encoding":{"detail":{"field":"s"}}},
    {"data":{"name":"inact"},"mark":{"type":"point","filled":true,"size":80,"stroke":"#000","strokeWidth":1,"opacity":1},
     "encoding":{
      "shape":{"field":"s","type":"nominal","scale":{"domain":["0.1 mM, n=9","0.26 mM, n=13","0.8 mM, n=21","2.4 mM, n=11","WT, 0.8 mM"],"range":["circle","square","circle","triangle-up","M-3,0A0.3,0.3 0 1,0 -2.4,0A0.3,0.3 0 1,0 -3,0Z M-1.2,0A0.3,0.3 0 1,0 -0.6,0A0.3,0.3 0 1,0 -1.2,0Z M0.6,0A0.3,0.3 0 1,0 1.2,0A0.3,0.3 0 1,0 0.6,0Z M2.4,0A0.3,0.3 0 1,0 3,0A0.3,0.3 0 1,0 2.4,0Z"]},"legend":{"title":null,"orient":"none","legendX":10,"legendY":184,"labelOffset":9,"encode":{"symbols":{"update":{"stroke":{"value":"#000"},"strokeWidth":{"value":1}}}}}},
      "fill":{"field":"s","type":"nominal","scale":{"domain":["0.1 mM, n=9","0.26 mM, n=13","0.8 mM, n=21","2.4 mM, n=11","WT, 0.8 mM"],"range":["#000","#000","#fff","#000","#000"]},"legend":{"title":null,"orient":"none","legendX":10,"legendY":184,"labelOffset":9,"encode":{"symbols":{"update":{"stroke":{"value":"#000"},"strokeWidth":{"value":1}}}}}}
     }}
   ]}
 ],"spacing":46,
 "resolve":{"scale":{"shape":"independent","fill":"independent"},"legend":{"shape":"independent","fill":"independent"}}}
]
}
